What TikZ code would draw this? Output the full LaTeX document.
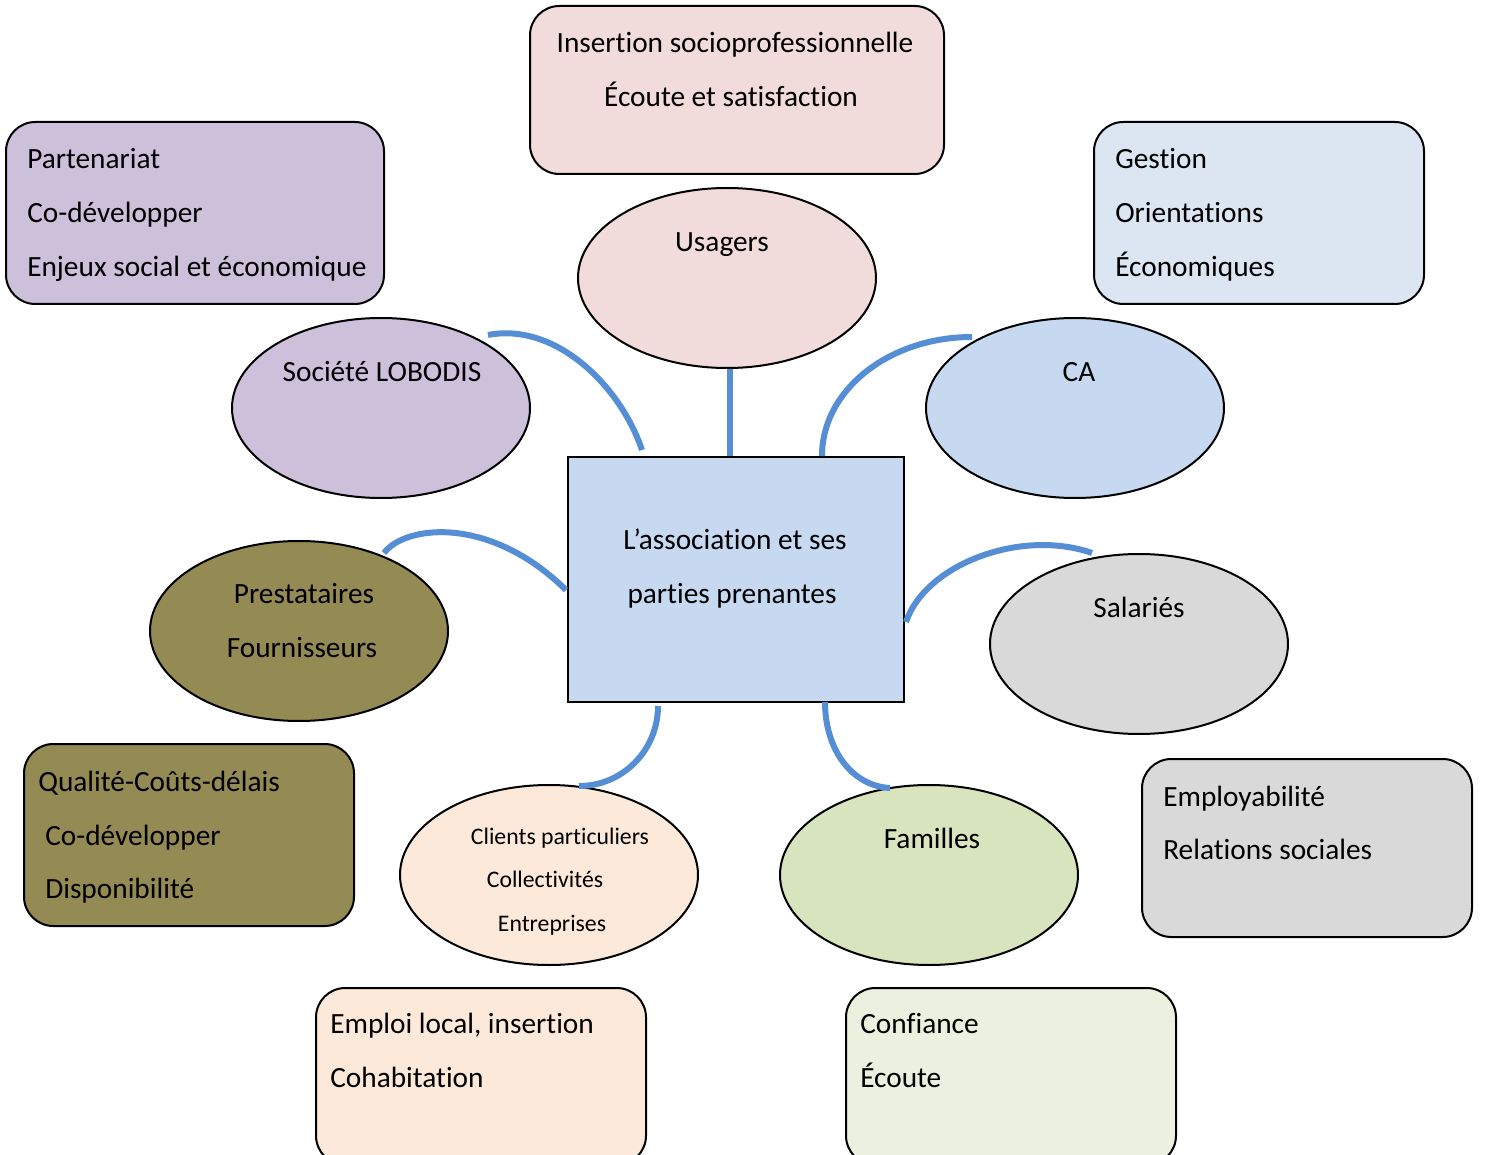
\documentclass[tikz,border=0pt]{standalone}
\usepackage{fontspec}
\setmainfont{Carlito}[Ligatures=NoCommon]
\usetikzlibrary{shapes.geometric}

\definecolor{pinkfill}{HTML}{F2DCDB}
\definecolor{lilacfill}{HTML}{CCC0DA}
\definecolor{paleblue}{HTML}{DCE6F2}
\definecolor{midblue}{HTML}{C6D9F1}
\definecolor{olivefill}{HTML}{948A54}
\definecolor{greyfill}{HTML}{D9D9D9}
\definecolor{peachfill}{HTML}{FDE9D9}
\definecolor{greenell}{HTML}{D7E4BD}
\definecolor{greenbox}{HTML}{EBF1DE}
\definecolor{linkblue}{HTML}{558ED5}

\tikzset{
  roundbox/.style={draw=black, line width=1.5pt, rounded corners=22pt},
  ell/.style={ellipse, draw=black, line width=1.5pt, inner sep=0pt,
              minimum width=223.5pt, minimum height=135pt},
  hubbox/.style={draw=black, line width=1.5pt, inner sep=0pt,
                 minimum width=252pt, minimum height=183.75pt},
  txt/.style={inner sep=0pt, font=\fontsize{22pt}{26pt}\selectfont,
              text height=0.64em, text depth=0pt, yshift=-3.6pt},
  smalltxt/.style={txt, font=\fontsize{17.8pt}{21pt}\selectfont},
  conn/.style={draw=linkblue, line width=4.5pt}
}

\begin{document}
\begin{tikzpicture}[x=0.75pt, y=-0.75pt]
\useasboundingbox (0,0) rectangle (1486,1155);
\clip (0,0) rectangle (1486,1155);

% rounded text boxes
\path[roundbox, fill=pinkfill]  (530,6)   rectangle (944,174);
\path[roundbox, fill=lilacfill] (6,122)   rectangle (384,304);
\path[roundbox, fill=paleblue]  (1094,122) rectangle (1424,304);
\path[roundbox, fill=olivefill] (24,744)  rectangle (354,926);
\path[roundbox, fill=greyfill]  (1142,759) rectangle (1472,937);
\path[roundbox, fill=peachfill] (316,988) rectangle (646,1165);
\path[roundbox, fill=greenbox]  (846,988) rectangle (1176,1165);

% stakeholders
\node[ell, fill=pinkfill]   (usagers)  at (727,278) {};
\node[ell, fill=lilacfill]  (lobodis)  at (381,408) {};
\node[ell, fill=midblue]    (ca)       at (1075,408) {};
\node[ell, fill=olivefill]  (presta)   at (299,631) {};
\node[ell, fill=greyfill]   (salaries) at (1139,644) {};
\node[ell, fill=peachfill]  (clients)  at (549,875) {};
\node[ell, fill=greenell]   (familles) at (929,875) {};

% central box
\node[hubbox, fill=midblue] (hub) at (736,579.5) {};

% connector end points
\coordinate (lobA) at (488,335);
\coordinate (lobB) at (642,450);
\coordinate (caA)  at (972,337);
\coordinate (caB)  at (822,456);
\coordinate (preA) at (384,553);
\coordinate (preB) at (566,590);
\coordinate (salA) at (906,622);
\coordinate (salB) at (1092,553);
\coordinate (cliA) at (658,706);
\coordinate (cliB) at (579,786);
\coordinate (famA) at (825,702);
\coordinate (famB) at (890,788);

% connectors
\draw[conn] (usagers.south -| 730,0) -- (hub.north -| 730,0);
\draw[conn] (lobA) .. controls (555,322) and (620,385) .. (lobB);
\draw[conn] (caA) .. controls (889,337) and (822,390) .. (caB);
\draw[conn] (preA) .. controls (405,525) and (490,515) .. (preB);
\draw[conn] (salA) .. controls (925,565) and (1020,528) .. (salB);
\draw[conn] (cliA) .. controls (658,750) and (623,786) .. (cliB);
\draw[conn] (famA) .. controls (825,750) and (852,786) .. (famB);

% texts of the boxes
\node[txt] (t1a) at (735,43) {Insertion socioprofessionnelle};
\node[txt] (t1b) at (731,97) {Écoute et satisfaction};

\node[txt, anchor=west] (t2a) at (27,159) {Partenariat};
\node[txt, anchor=west] (t2b) at (27,213) {Co-développer};
\node[txt, anchor=west] (t2c) at (27,267) {Enjeux social et économique};

\node[txt, anchor=west] (t3a) at (1115,159) {Gestion};
\node[txt, anchor=west] (t3b) at (1115,213) {Orientations};
\node[txt, anchor=west] (t3c) at (1115,267) {Économiques};

\node[txt, anchor=west] (t4a) at (38,782) {Qualité-Coûts-délais};
\node[txt, anchor=west] (t4b) at (45,836) {Co-développer};
\node[txt, anchor=west] (t4c) at (45,889) {Disponibilité};

\node[txt, anchor=west] (t5a) at (1163,797) {Employabilité};
\node[txt, anchor=west] (t5b) at (1163,850) {Relations sociales};

\node[txt, anchor=west] (t6a) at (330,1024) {Emploi local, insertion};
\node[txt, anchor=west] (t6b) at (330,1078) {Cohabitation};

\node[txt, anchor=west] (t7a) at (860,1024) {Confiance};
\node[txt, anchor=west] (t7b) at (860,1078) {Écoute};

% texts of the stakeholders
\node[txt] (tu)  at (722,242) {Usagers};
\node[txt] (tl)  at (382,372) {Société LOBODIS};
\node[txt] (tc)  at (1079,372) {CA};
\node[txt] (tpa) at (304,594) {Prestataires};
\node[txt] (tpb) at (302,648) {Fournisseurs};
\node[txt] (ts)  at (1139,608) {Salariés};
\node[txt] (tf)  at (932,839) {Familles};
\node[smalltxt] (tca) at (560,835) {Clients particuliers};
\node[smalltxt] (tcb) at (545,878) {Collectivités};
\node[smalltxt] (tcc) at (552,922) {Entreprises};

\node[txt] (th1) at (735,540) {L’association et ses};
\node[txt] (th2) at (732,594) {parties prenantes};
\end{tikzpicture}
\end{document}
